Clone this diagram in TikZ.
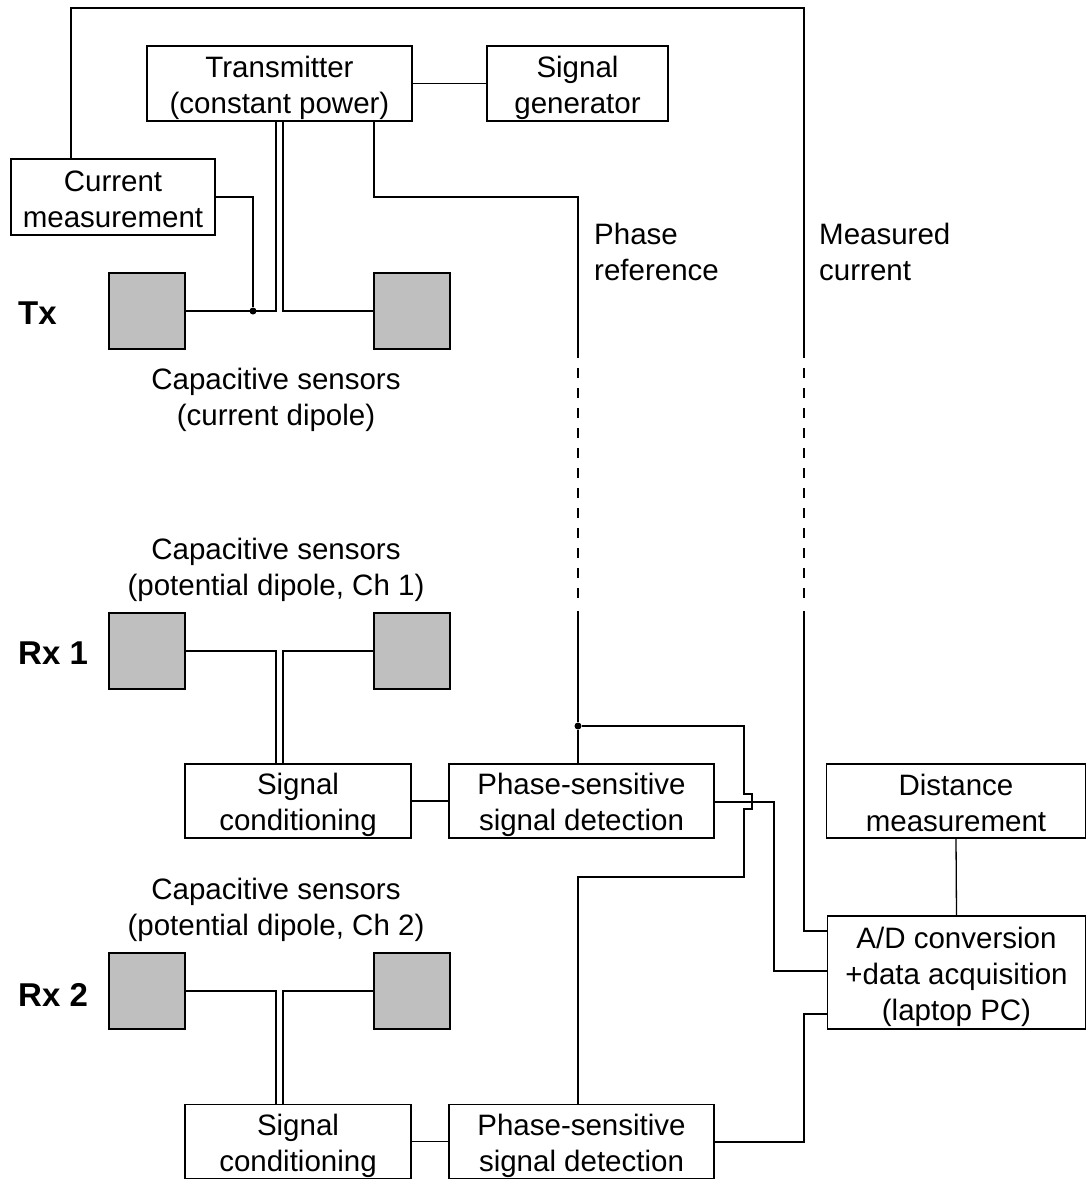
\documentclass[tikz,border=0pt]{standalone}
\usepackage{fontspec}
\setmainfont{Liberation Sans}
\newcommand\myTop{\rule{0pt}{30pt}}
\newcommand\myBot{\rule[-6pt]{0pt}{6pt}}
\begin{document}
\begin{tikzpicture}[x=1pt,y=-1pt,
  every node/.style={font=\fontsize{29.5}{36}\selectfont, inner sep=0pt, align=center},
  box/.style={draw=black, line width=1.3pt, fill=white},
  sensor/.style={draw=black, line width=1.3pt, fill=black!25, minimum width=76pt, minimum height=76pt},
  wire/.style={line width=1.3pt, line join=miter},
  dashwire/.style={line width=1.3pt, dash pattern=on 9.5pt off 10.5pt},
  lbl/.style={font=\fontsize{33}{40}\selectfont\bfseries, anchor=west},
  dotj/.style={circle, fill=black, minimum size=7pt, inner sep=0pt}]
\useasboundingbox (0,0) rectangle (1087,1180);

% boxes
\node[box, minimum width=265pt, minimum height=75pt] (tx) at (279.5,83.5) {\myTop Transmitter\\(constant power)\myBot};
\node[box, minimum width=181pt, minimum height=75pt] (sg) at (577.5,83.5) {\myTop Signal\\generator\myBot};
\node[box, minimum width=204pt, minimum height=76pt] (cm) at (113,197) {\myTop Current\\measurement\myBot};
\node[box, minimum width=226pt, minimum height=74pt] (sc1) at (298,801) {\myTop Signal\\conditioning\myBot};
\node[box, minimum width=265pt, minimum height=74pt] (ps1) at (581.5,801) {\myTop Phase-sensitive\\signal detection\myBot};
\node[box, minimum width=259pt, minimum height=74pt] (dm) at (956,801) {\myTop Distance\\measurement\myBot};
\node[box, minimum width=258.5pt, minimum height=113pt] (ad) at (956.5,972.5) {\myTop A/D conversion\\+data acquisition\\(laptop PC)\myBot};
\node[box, minimum width=226pt, minimum height=74pt] (sc2) at (298,1141.5) {\myTop Signal\\conditioning\myBot};
\node[box, minimum width=265pt, minimum height=74pt] (ps2) at (581.5,1141.5) {\myTop Phase-sensitive\\signal detection\myBot};

% sensors
\node[sensor] (txl) at (147,311) {};
\node[sensor] (txr) at (412,311) {};
\node[sensor] (r1l) at (147,651) {};
\node[sensor] (r1r) at (412,651) {};
\node[sensor] (r2l) at (147,991) {};
\node[sensor] (r2r) at (412,991) {};

% labels
\node[lbl] (ltx) at (18,313) {Tx};
\node[lbl] (lr1) at (18,653) {Rx 1};
\node[lbl] (lr2) at (18,995) {Rx 2};
\node (ctx) at (276,399.5) {Capacitive sensors\\(current dipole)};
\node (cr1) at (276,570) {Capacitive sensors\\(potential dipole, Ch 1)};
\node (cr2) at (276,910) {Capacitive sensors\\(potential dipole, Ch 2)};
\node[anchor=west, align=left] (lpr) at (594,252) {Phase\\reference};
\node[anchor=west, align=left] (lmc) at (819,252) {Measured\\current};

% coordinates
\coordinate (tl) at (71,8);
\coordinate (tr) at (804,8);
\coordinate (mc1) at (804,358);
\coordinate (mc2) at (804,368);
\coordinate (mc3) at (804,598);
\coordinate (mc4) at (804,611);
\coordinate (cmj) at (253,197);
\node[dotj] (dot1) at (253,311) {};
\coordinate (xa) at (276,0);
\coordinate (xb) at (283,0);
\coordinate (xc) at (374,0);
\coordinate (pr0) at (578,197);
\coordinate (pr1) at (578,358);
\coordinate (pr2) at (578,368);
\coordinate (pr3) at (578,598);
\coordinate (pr4) at (578,611);
\node[dotj] (dot2) at (578,726) {};
\coordinate (h1) at (744,726);
\coordinate (h2) at (744,794);
\coordinate (h3) at (752,794);
\coordinate (h4) at (752,809);
\coordinate (h5) at (744,809);
\coordinate (h6) at (744,877);
\coordinate (h7) at (578,877);
\coordinate (o1) at (774,802);
\coordinate (o1b) at (774,971);
\coordinate (o2) at (804,1142);
\coordinate (o2b) at (804,1014);
\coordinate (mc5) at (804,931);

% top loop: current measurement -> A/D
\draw[wire] (cm.north -| tl) -- (tl) -- (tr) -- (mc1);
\draw[dashwire] (mc2) -- (mc3);
\draw[wire] (mc4) -- (mc5) -- (mc5 -| ad.west);

% transmitter - signal generator
\draw[wire] (tx.east) -- (sg.west);

% Tx sensors
\draw[wire] (cm.east) -- (cmj) -- (dot1);
\draw[wire] (tx.south -| xa) |- (txl.east);
\draw[wire] (tx.south -| xb) |- (txr.west);

% phase reference
\draw[wire] (tx.south -| xc) |- (pr0) -- (pr1);
\draw[dashwire] (pr2) -- (pr3);
\draw[wire] (pr4) -- (dot2) -- (ps1.north -| dot2);
\draw[wire] (dot2) -- (h1) -- (h2) -- (h3) -- (h4) -- (h5) -- (h6) -- (h7) -- (ps2.north -| h7);

% Rx1
\draw[wire] (r1l.east) -| (sc1.north -| xa);
\draw[wire] (r1r.west) -| (sc1.north -| xb);
\draw[wire] (sc1.east) -- (ps1.west);
\draw[wire] (ps1.east |- o1) -- (o1) -- (o1b) -- (o1b -| ad.west);

% Rx2
\draw[wire] (r2l.east) -| (sc2.north -| xa);
\draw[wire] (r2r.west) -| (sc2.north -| xb);
\draw[wire] (sc2.east) -- (ps2.west);
\draw[wire] (ps2.east |- o2) -- (o2) -- (o2b) -- (o2b -| ad.west);

% distance -> A/D
\draw[wire] (dm.south) -- (ad.north);
\end{tikzpicture}
\end{document}
